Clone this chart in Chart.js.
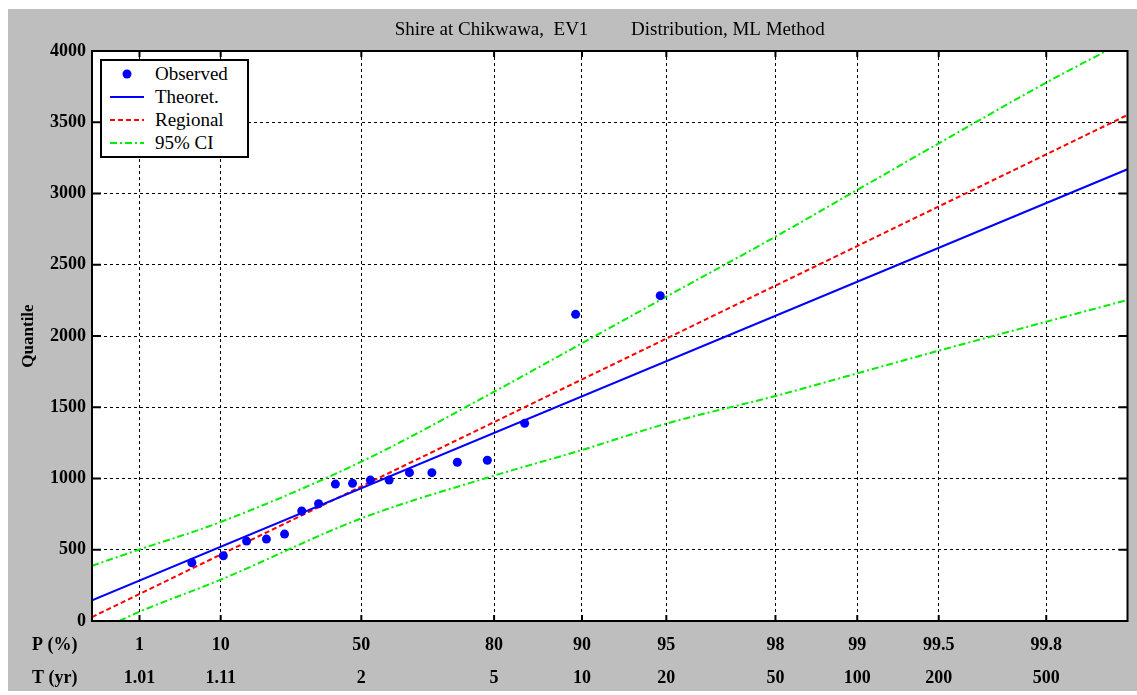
<!DOCTYPE html>
<html>
<head>
<meta charset="utf-8">
<title>Shire at Chikwawa - EV1 Distribution</title>
<script src="https://cdn.jsdelivr.net/npm/chart.js"></script>
<style>
  body { margin: 0; background: #fff; }
  #frame { position: absolute; left: 8px; top: 9px; width: 1129px; height: 682px; background: #bebebe; }
  #quantileChart { position: absolute; left: 0; top: 0; }
  #legend {
    position: absolute; left: 92px; top: 50px; width: 145px; height: 94px;
    border: 2px solid #000; background: #fff;
    font-family: "Liberation Serif", "Times New Roman", serif; font-size: 19px; color: #000;
    padding-top: 1px; box-sizing: content-box;
  }
  .legend-row { display: flex; align-items: center; height: 23px; }
  .legend-row svg { margin-left: 8px; margin-right: 11px; }
</style>
</head>
<body>
<div id="frame">
  <canvas id="quantileChart" width="1129" height="682"></canvas>
  <div id="legend"></div>
</div>
<script>
// tick positions on the probability axis
const pTicks = [1, 10, 50, 80, 90, 95, 98, 99, 99.5, 99.8]
const pTickLabels = ["1", "10", "50", "80", "90", "95", "98", "99", "99.5", "99.8"]
const tTickLabels = ["1.01", "1.11", "2", "5", "10", "20", "50", "100", "200", "500"]

// observed annual maxima (plotting position %, discharge)
const obsP = [5.26, 10.53, 15.79, 21.05, 26.32, 31.58, 36.84, 42.11, 47.37, 52.63, 57.89, 63.16, 68.42, 73.68, 78.95, 84.21, 89.47, 94.74]
const obsQ = [409, 458, 561, 575, 610, 772, 823, 961, 966, 989, 989, 1041, 1041, 1114, 1128, 1387, 2152, 2283]

// fitted lines (straight on the Gumbel paper)
const fitP = [0.1, 99.9]
const theoQ = [145, 3170]
const regionalQ = [28, 3551]

// 95% confidence band
const ciUpperP = [0.1, 1, 10, 50, 80, 90, 95, 98, 99, 99.5, 99.8, 99.88]
const ciUpperQ = [388, 502, 695, 1118, 1609, 1949, 2276, 2697, 3025, 3352, 3778, 4000]
const ciLowerP = [0.42, 1, 10, 50, 80, 90, 95, 98, 99, 99.5, 99.8, 99.9]
const ciLowerQ = [0, 65, 290, 720, 1020, 1200, 1385, 1579, 1738, 1897, 2100, 2253]

const serif = "'Liberation Serif', 'Times New Roman', serif"

// Gumbel reduced variate for a non-exceedance probability
const gumbel = (p) => -Math.log(-Math.log(p))
const toPoints = (pList, qList) => pList.map((p, i) => ({ x: gumbel(p / 100), y: qList[i] }))

const boxPlugin = {
  id: "box",
  beforeDraw(chart) {
    // white plot area on the grey figure
    const { ctx, chartArea: a } = chart
    ctx.save()
    ctx.fillStyle = "#fff"
    ctx.fillRect(a.left, a.top, a.right - a.left, a.bottom - a.top)
    ctx.restore()
  },
  afterDraw(chart) {
    const { ctx, chartArea: a, scales } = chart
    ctx.save()
    ctx.strokeStyle = "#000"
    ctx.lineWidth = 2
    ctx.setLineDash([])
    ctx.strokeRect(a.left, a.top, a.right - a.left, a.bottom - a.top)
    // inward tick marks on all four sides
    ctx.beginPath()
    scales.y.ticks.forEach((t) => {
      const py = scales.y.getPixelForValue(t.value)
      ctx.moveTo(a.left, py); ctx.lineTo(a.left + 9, py)
      ctx.moveTo(a.right, py); ctx.lineTo(a.right - 9, py)
    })
    scales.x.ticks.forEach((t) => {
      const px = scales.x.getPixelForValue(t.value)
      ctx.moveTo(px, a.bottom); ctx.lineTo(px, a.bottom - 6)
      ctx.moveTo(px, a.top); ctx.lineTo(px, a.top + 6)
    })
    ctx.stroke()

    // title over the plot area, row captions left of the tick labels
    ctx.fillStyle = "#000"
    ctx.textAlign = "center"
    ctx.textBaseline = "middle"
    ctx.font = "19px " + serif
    ctx.fillText("Shire at Chikwawa,  EV1         Distribution, ML Method", (a.left + a.right) / 2, 21)
    ctx.font = "bold 18px " + serif
    ctx.textAlign = "left"
    ctx.fillText("P (%)", 24, 636)
    ctx.fillText("T (yr)", 24, 669)
    ctx.restore()
  }
}

const ctx = document.getElementById("quantileChart").getContext("2d")

const chart = new Chart(ctx, {
  type: "line",
  data: {
    datasets: [
      {
        label: "Observed",
        type: "scatter",
        data: toPoints(obsP, obsQ),
        backgroundColor: "#0000ff",
        borderColor: "#0000ff",
        pointRadius: 4.5,
        pointBorderWidth: 0,
        showLine: false,
      },
      {
        label: "Theoret.",
        data: toPoints(fitP, theoQ),
        borderColor: "#0000ff",
        borderWidth: 2,
        pointRadius: 0,
      },
      {
        label: "Regional",
        data: toPoints(fitP, regionalQ),
        borderColor: "#ff0000",
        borderWidth: 2,
        borderDash: [5, 3],
        pointRadius: 0,
      },
      {
        label: "95% CI",
        data: toPoints(ciUpperP, ciUpperQ),
        borderColor: "#00ee00",
        borderWidth: 2,
        borderDash: [7, 3, 2, 3],
        pointRadius: 0,
        cubicInterpolationMode: "monotone",
      },
      {
        label: "",
        data: toPoints(ciLowerP, ciLowerQ),
        borderColor: "#00ee00",
        borderWidth: 2,
        borderDash: [7, 3, 2, 3],
        pointRadius: 0,
        cubicInterpolationMode: "monotone",
      },
    ],
  },
  options: {
    responsive: false,
    animation: false,
    devicePixelRatio: 1,
    layout: { padding: { top: 42, right: 9.5, left: 0, bottom: 0 } },
    plugins: {
      legend: { display: false },
      title: { display: false },
      tooltip: { enabled: false },
    },
    scales: {
      x: {
        type: "linear",
        min: gumbel(0.001),
        max: gumbel(0.999),
        afterBuildTicks: (scale) => {
          scale.ticks = pTicks.map((p) => ({ value: gumbel(p / 100) }))
        },
        afterFit: (scale) => { scale.height = 70 },
        ticks: {
          autoSkip: false,
          maxRotation: 0,
          padding: 7.5,
          color: "#000",
          font: { family: serif, size: 18, weight: "bold", lineHeight: "33px" },
          callback: (value, index) => [pTickLabels[index], tTickLabels[index]],
        },
        grid: { color: "#000", lineWidth: 1, drawTicks: false },
        border: { display: false, dash: [3, 3] },
      },
      y: {
        min: 0,
        max: 4000,
        afterFit: (scale) => { scale.width = 84 },
        ticks: {
          stepSize: 500,
          padding: 6,
          color: "#000",
          font: { family: serif, size: 18, weight: "bold" },
          callback: (value) => String(value),
        },
        title: {
          display: true,
          text: "Quantile",
          color: "#000",
          font: { family: serif, size: 17, weight: "bold" },
          padding: { top: 10, bottom: 0 },
        },
        grid: { color: "#000", lineWidth: 1, drawTicks: false },
        border: { display: false, dash: [3, 3] },
      },
    },
  },
  plugins: [boxPlugin],
})

// HTML legend built from the datasets
const legendBox = document.getElementById("legend")
chart.data.datasets.filter((ds) => ds.label).forEach((ds) => {
  const row = document.createElement("div")
  row.className = "legend-row"
  let icon
  if (ds.type === "scatter") {
    icon = '<circle cx="17" cy="6" r="4.5" fill="' + ds.backgroundColor + '"/>'
  } else {
    const dash = ds.borderDash ? ' stroke-dasharray="' + ds.borderDash.join(" ") + '"' : ""
    icon = '<line x1="0" y1="6" x2="34" y2="6" stroke="' + ds.borderColor + '" stroke-width="2"' + dash + "/>"
  }
  row.innerHTML = '<svg width="34" height="12">' + icon + "</svg><span>" + ds.label + "</span>"
  legendBox.appendChild(row)
})
</script>
</body>
</html>
